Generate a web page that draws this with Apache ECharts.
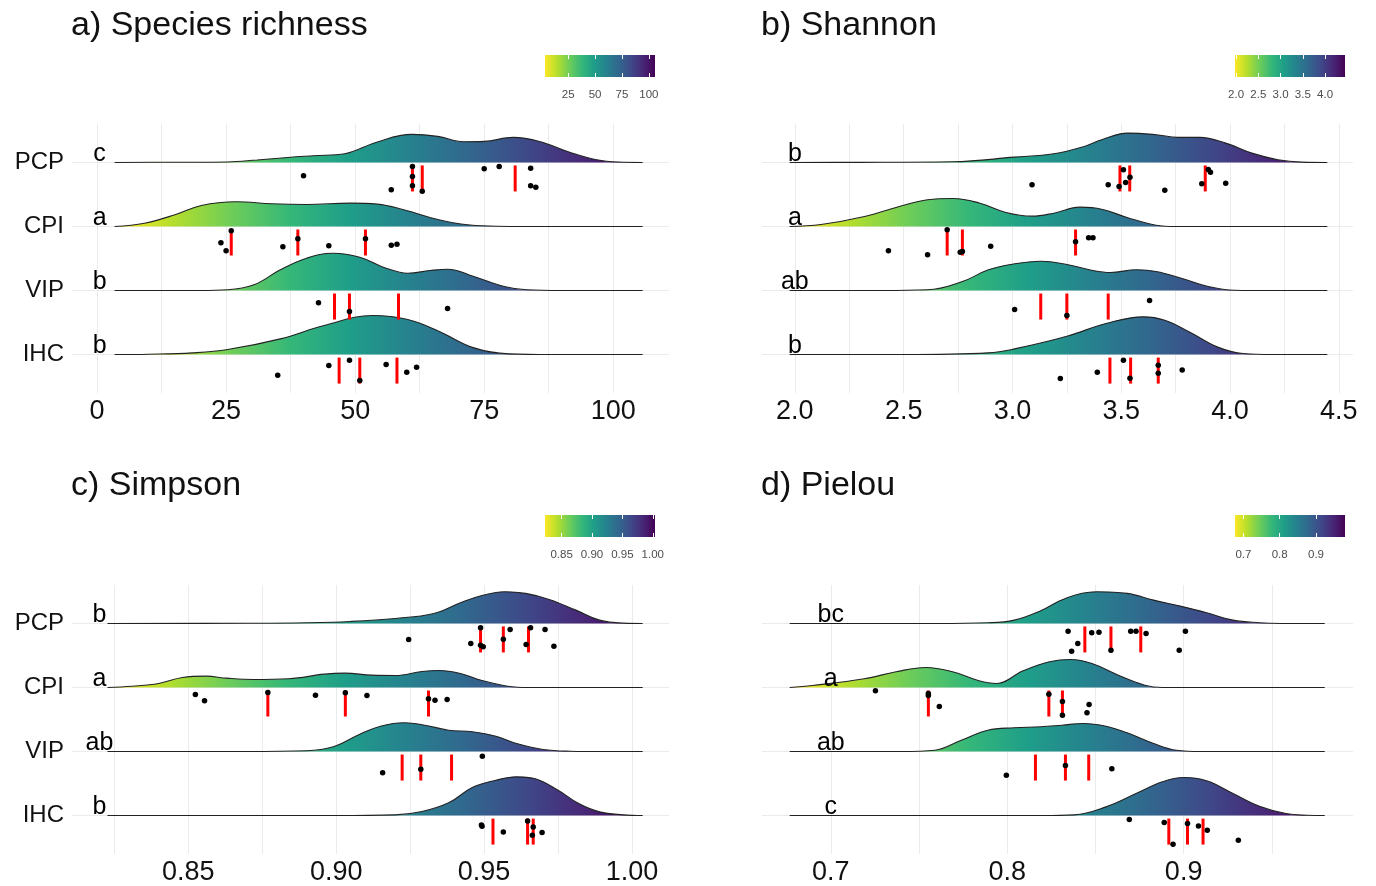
<!DOCTYPE html>
<html>
<head>
<meta charset="utf-8">
<title>Diversity ridgelines</title>
<script src="https://cdn.jsdelivr.net/npm/echarts@6.0.0/dist/echarts.min.js"></script>
<style>
  html, body { margin: 0; padding: 0; background: #fff; }
  #chart { width: 1376px; height: 886px; }
</style>
</head>
<body>
<div id="chart"></div>
<script>
// groups, top row first
const groups = ['PCP', 'CPI', 'VIP', 'IHC'];

// ---- a) Species richness ----
const richnessTicks = [0, 25, 50, 75, 100];
const richnessLetters = ['c', 'a', 'b', 'b'];
const richnessDensity = [
  [[3.4,0],[15,0.2],[25.3,0.5],[31,2.5],[37,5],[42,6.7],[48,8.7],[54,20],[61,28],[66,26],[71,20.7],[75,21],[80.6,25],[85.7,21],[91.7,10],[96.8,2.7],[101,0.4],[105.7,0]],
  [[3.4,0],[9.2,3.3],[15.1,11.7],[20.2,21],[27,24.7],[33.8,22.7],[40.6,22],[49.1,23.3],[54.3,22.3],[59.4,16.7],[66.2,6.7],[70.5,2.5],[74.7,0.7],[80,0],[90,0],[105.7,0]],
  [[3.4,0],[20,0],[25.3,0.7],[30.4,5.7],[35.5,20.7],[40.6,32.3],[45.7,37.3],[50.9,33.3],[56,22.3],[60.2,17.3],[64.5,20],[67.9,21.3],[73,14],[78.9,4],[83.2,0.7],[90,0],[105.7,0]],
  [[3.4,0],[10,0.3],[18.5,1.7],[25.3,5],[35.5,15.7],[44,29],[53.4,39],[60.2,35],[66.2,23.3],[73,6.7],[79.8,0.7],[88,0],[105.7,0]]
];
const richnessPoints = [
  [[61.1,4],[77.9,4],[84,5.7],[75,6.3],[40,13.3],[61.1,14],[61.1,23.3],[84,23.3],[85,24.7],[57,27.3],[63,28.7]],
  [[26,4.3],[24,16.3],[25,24.3],[36,20.3],[38.9,12.3],[44.9,19.3],[52,12.3],[57,18.7],[58.1,17.7]],
  [[42.9,12.3],[48.9,21],[67.9,18]],
  [[35,20.7],[44.9,11],[48.9,5.7],[50.9,26],[56,10],[60,17.7],[61.9,12.7]]
];
const richnessQuantiles = [[61.1,63,81],[26,38.9,52],[46,48.9,58.4],[46.9,50.9,58.1]];
const richnessCbTicks = [25, 50, 75, 100];

// ---- b) Shannon ----
const shannonTicks = [2.0, 2.5, 3.0, 3.5, 4.0, 4.5];
const shannonLetters = ['b', 'a', 'ab', 'b'];
const shannonDensity = [
  [[1.976,0],[2.3,0.1],[2.727,0.7],[3.01,5.3],[3.19,8.7],[3.33,16],[3.41,22.7],[3.53,29.3],[3.66,27.7],[3.76,25],[3.86,25],[3.98,19.3],[4.10,9.3],[4.22,2.7],[4.33,0.3],[4.447,0]],
  [[1.976,0],[2.12,2],[2.32,10],[2.48,20],[2.61,26.7],[2.727,28],[2.85,23.3],[2.97,14],[3.09,10.3],[3.19,13.3],[3.31,19.3],[3.41,17.3],[3.53,8.7],[3.66,1.3],[3.75,0],[4.0,0],[4.447,0]],
  [[1.976,0],[2.4,0],[2.61,0.7],[2.77,9],[2.89,20.7],[3.01,26.7],[3.13,29.3],[3.25,26],[3.37,20],[3.45,18],[3.57,20.7],[3.66,19],[3.78,12],[3.90,4],[4.02,0.3],[4.2,0],[4.447,0]],
  [[1.976,0],[2.5,0],[2.89,1.7],[3.01,5.7],[3.25,18.3],[3.43,31],[3.60,37.7],[3.70,34.3],[3.82,21.7],[3.94,7.7],[4.06,1],[4.2,0],[4.447,0]]
];
const shannonPoints = [
  [[3.51,7.3],[3.54,14.7],[3.90,7],[3.91,9.7],[3.09,22.3],[3.44,22.3],[3.49,24],[3.52,20],[3.87,21.3],[3.98,20.7],[3.70,27.7]],
  [[2.70,3.3],[2.43,24.3],[2.61,28.3],[2.76,25.7],[2.77,25],[2.90,19.7],[3.29,15.3],[3.35,11.3],[3.37,11.3]],
  [[3.01,19],[3.25,25],[3.63,10]],
  [[3.22,24],[3.39,17.7],[3.51,5.7],[3.54,23.7],[3.67,10.7],[3.67,18.7],[3.78,15.3]]
];
const shannonQuantiles = [[3.494,3.539,3.886],[2.70,2.77,3.29],[3.13,3.25,3.44],[3.448,3.543,3.67]];
const shannonCbTicks = [2.0, 2.5, 3.0, 3.5, 4.0];

// ---- c) Simpson ----
const simpsonTicks = [0.85, 0.90, 0.95, 1.00];
const simpsonLetters = ['b', 'a', 'ab', 'b'];
const simpsonDensity = [
  [[0.8227,0],[0.87,0.2],[0.890,0.7],[0.905,2],[0.920,5],[0.933,10],[0.942,20.7],[0.949,27.7],[0.957,31.7],[0.964,30],[0.972,24],[0.981,13.3],[0.989,3.3],[0.997,0.3],[1.0036,0]],
  [[0.8227,0],[0.831,1.3],[0.840,4],[0.848,10],[0.856,11.3],[0.863,9.3],[0.872,8],[0.884,8.7],[0.896,13.3],[0.903,14.3],[0.912,12.3],[0.920,12],[0.929,16],[0.935,17],[0.942,14],[0.949,7.3],[0.958,1.3],[0.965,0],[0.98,0],[1.0036,0]],
  [[0.8227,0],[0.87,0],[0.890,0.7],[0.899,4.7],[0.908,17.3],[0.915,25.3],[0.923,28.7],[0.930,26.3],[0.938,21.3],[0.946,19.7],[0.954,15.3],[0.961,8],[0.970,2],[0.979,0.3],[0.99,0],[1.0036,0]],
  [[0.8227,0],[0.90,0],[0.920,0.7],[0.929,4],[0.938,12.7],[0.946,28],[0.954,35.3],[0.961,38.7],[0.967,37],[0.975,25.3],[0.982,12],[0.989,3.7],[0.997,0.7],[1.0036,0]]
];
const simpsonPoints = [
  [[0.9488,4.3],[0.9588,6],[0.9657,4.3],[0.9706,6],[0.9245,16],[0.9455,20],[0.9488,21.7],[0.9497,23.3],[0.9565,15.7],[0.9642,21],[0.9736,22.7]],
  [[0.8524,7],[0.8555,13.3],[0.8769,5],[0.893,7.7],[0.9031,5.3],[0.9104,8],[0.9312,11.3],[0.9334,12.7],[0.9375,12]],
  [[0.9494,4.7],[0.9157,21.3],[0.9286,17.7]],
  [[0.9491,9.3],[0.9493,10.7],[0.9565,16.3],[0.9647,5.3],[0.9666,11.3],[0.9663,19.7],[0.9696,17]]
];
const simpsonQuantiles = [[0.9488,0.9565,0.965],[0.8769,0.9031,0.9312],[0.9223,0.9286,0.939],[0.953,0.9647,0.9666]];
const simpsonCbTicks = [0.85, 0.90, 0.95, 1.00];

// ---- d) Pielou ----
const pielouTicks = [0.7, 0.8, 0.9];
const pielouLetters = ['bc', 'a', 'ab', 'c'];
const pielouDensity = [
  [[0.6767,0],[0.76,0],[0.789,0.7],[0.804,3.3],[0.819,12.7],[0.833,25],[0.851,31.7],[0.868,30],[0.883,23.3],[0.898,17.3],[0.913,10.7],[0.928,3.3],[0.943,0.7],[0.955,0],[0.980,0]],
  [[0.6767,0],[0.6896,2],[0.719,8.7],[0.737,15.7],[0.754,20],[0.769,15.7],[0.784,6.7],[0.794,4],[0.809,16.7],[0.824,25.7],[0.836,28],[0.848,24],[0.863,12.3],[0.878,2.3],[0.888,0],[0.93,0],[0.980,0]],
  [[0.6767,0],[0.74,0],[0.759,1.3],[0.774,11.3],[0.789,21.3],[0.804,23.7],[0.819,24.7],[0.831,26.3],[0.843,28],[0.856,25.3],[0.868,18.7],[0.883,8],[0.896,1.3],[0.91,0],[0.980,0]],
  [[0.6767,0],[0.82,0],[0.838,0.7],[0.856,8.7],[0.873,22],[0.888,33.7],[0.900,38],[0.913,34.7],[0.928,22],[0.943,9.3],[0.958,2],[0.970,0.3],[0.980,0]]
];
const pielouPoints = [
  [[0.8345,7.7],[0.8479,9.3],[0.852,8.7],[0.870,7.7],[0.873,7.7],[0.8787,10],[0.901,7.7],[0.840,20],[0.8365,27.7],[0.8588,26.7],[0.8975,26.7]],
  [[0.7253,3.3],[0.7553,6],[0.7553,8],[0.7615,19],[0.8236,6.7],[0.8313,14],[0.8313,27.7],[0.8464,17],[0.8452,25.3]],
  [[0.7995,23.7],[0.833,14],[0.8593,17.3]],
  [[0.8692,4],[0.889,7],[0.894,28.7],[0.9022,8],[0.9084,10.3],[0.9134,14.7],[0.931,24.7]]
];
const pielouQuantiles = [[0.844,0.8588,0.8757],[0.7553,0.8236,0.8313],[0.816,0.833,0.8462],[0.8916,0.9022,0.911]];
const pielouCbTicks = [0.7, 0.8, 0.9];

const font = '"Liberation Sans", Arial, Helvetica, sans-serif';
const textColor = '#111';
const rowScale = 64; // density units per row height

// viridis, reversed (low = yellow)
const viridis = ['#FDE725', '#B4DE2C', '#6DCD59', '#35B779', '#1F9E89', '#26828E', '#31688E', '#3E4A89', '#482878', '#440154'];
function fillGradient() {
  return new echarts.graphic.LinearGradient(0, 0, 1, 0,
    viridis.map((c, i) => ({ offset: i / (viridis.length - 1), color: c })));
}

const panels = [
  { title: 'a) Species richness', density: richnessDensity, points: richnessPoints, quant: richnessQuantiles,
    letters: richnessLetters, letterX: 0.5, ticks: richnessTicks, step: 12.5, range: [-4.85, 110.8], dec: 0,
    cbTicks: richnessCbTicks, cbDec: 0, showGroups: true, left: 72, top: 124, width: 597, titleTop: 4, cbLeft: 545, cbTop: 55 },
  { title: 'b) Shannon', density: shannonDensity, points: shannonPoints, quant: shannonQuantiles,
    letters: shannonLetters, letterX: 2.0, ticks: shannonTicks, step: 0.25, range: [1.849, 4.565], dec: 1,
    cbTicks: shannonCbTicks, cbDec: 1, showGroups: false, left: 762, top: 124, width: 591, titleTop: 4, cbLeft: 1235, cbTop: 55 },
  { title: 'c) Simpson', density: simpsonDensity, points: simpsonPoints, quant: simpsonQuantiles,
    letters: simpsonLetters, letterX: 0.82, ticks: simpsonTicks, step: 0.025, range: [0.8107, 1.0125], dec: 2,
    cbTicks: simpsonCbTicks, cbDec: 2, showGroups: true, left: 72, top: 585, width: 597, titleTop: 464, cbLeft: 545, cbTop: 515 },
  { title: 'd) Pielou', density: pielouDensity, points: pielouPoints, quant: pielouQuantiles,
    letters: pielouLetters, letterX: 0.7, ticks: pielouTicks, step: 0.05, range: [0.661, 0.996], dec: 1,
    cbTicks: pielouCbTicks, cbDec: 1, showGroups: false, left: 762, top: 585, width: 591, titleTop: 464, cbLeft: 1235, cbTop: 515 }
];

const title = [], grid = [], xAxis = [], yAxis = [], series = [];

panels.forEach((p, k) => {
  title.push({ text: p.title, left: p.left - 6, top: p.titleTop,
    textStyle: { fontFamily: font, fontSize: 34, fontWeight: 'normal', color: textColor } });

  // main panel
  const gi = grid.length;
  grid.push({ left: p.left, top: p.top, width: p.width, height: 269 });
  const xi = xAxis.length;
  xAxis.push({
    type: 'value', gridIndex: gi, min: p.range[0], max: p.range[1],
    minInterval: p.step, maxInterval: p.step,
    axisLine: { show: false }, axisTick: { show: false },
    axisLabel: { customValues: p.ticks, formatter: v => v.toFixed(p.dec),
      fontFamily: font, fontSize: 27, color: textColor, margin: 5 },
    splitLine: { show: true, showMinLine: false, showMaxLine: false, lineStyle: { color: '#EBEBEB', width: 1 } }
  });
  const yi = yAxis.length;
  yAxis.push({
    type: 'value', gridIndex: gi, min: 0.4, max: 4.6, minInterval: 1, maxInterval: 1,
    axisLine: { show: false }, axisTick: { show: false },
    axisLabel: { show: p.showGroups, customValues: [1, 2, 3, 4], formatter: v => groups[groups.length - v] || '',
      fontFamily: font, fontSize: 24, color: textColor, margin: 8 },
    splitLine: { show: true, showMinLine: false, showMaxLine: false, lineStyle: { color: '#EBEBEB', width: 1 } }
  });

  groups.forEach((g, i) => {
    const base = groups.length - i;
    series.push({
      type: 'line', name: g, xAxisIndex: xi, yAxisIndex: yi, z: 2, silent: true,
      data: p.density[i].map(d => [d[0], base + d[1] / rowScale]),
      smooth: 0.4, symbol: 'none',
      lineStyle: { color: '#222', width: 1.1 },
      areaStyle: { origin: base, color: fillGradient(), opacity: 1 }
    });
  });
  groups.forEach((g, i) => {
    const base = groups.length - i;
    series.push({
      type: 'scatter', xAxisIndex: xi, yAxisIndex: yi, z: 3, silent: true,
      symbol: 'rect', symbolSize: [3, 26],
      itemStyle: { color: '#FF0000', opacity: 1 },
      data: p.quant[i].map(q => [q, base - 16 / rowScale])
    });
    series.push({
      type: 'scatter', xAxisIndex: xi, yAxisIndex: yi, z: 4, silent: true,
      symbolSize: 5.5, itemStyle: { color: '#000', opacity: 1 },
      data: p.points[i].map(d => [d[0], base - d[1] / rowScale])
    });
    series.push({
      type: 'scatter', xAxisIndex: xi, yAxisIndex: yi, z: 5, silent: true,
      symbolSize: 1, itemStyle: { color: 'rgba(0,0,0,0)' },
      label: { show: true, position: 'top', distance: -5, formatter: p.letters[i], opacity: 1,
        fontFamily: font, fontSize: 25, color: '#000' },
      data: [[p.letterX, base]]
    });
  });

  // colour bar
  const cbMin = p.density[0][0][0];
  const cbMax = p.density[0][p.density[0].length - 1][0];
  const cg = grid.length;
  grid.push({ left: p.cbLeft, top: p.cbTop, width: 110, height: 22 });
  const cx = xAxis.length;
  xAxis.push({
    type: 'value', gridIndex: cg, min: cbMin, max: cbMax, z: 10,
    axisLine: { show: false }, splitLine: { show: false },
    axisTick: { show: true, inside: true, length: 4, customValues: p.cbTicks, lineStyle: { color: '#fff', width: 1 } },
    axisLabel: { customValues: p.cbTicks, formatter: v => v.toFixed(p.cbDec),
      fontFamily: font, fontSize: 11.5, color: '#4d4d4d', margin: 12 }
  });
  xAxis.push({
    type: 'value', gridIndex: cg, position: 'top', min: cbMin, max: cbMax, z: 10,
    axisLine: { show: false }, splitLine: { show: false }, axisLabel: { show: false },
    axisTick: { show: true, inside: true, length: 4, customValues: p.cbTicks, lineStyle: { color: '#fff', width: 1 } }
  });
  const cy = yAxis.length;
  yAxis.push({ type: 'value', gridIndex: cg, min: 0, max: 1, show: false });
  series.push({
    type: 'line', xAxisIndex: cx, yAxisIndex: cy, silent: true, symbol: 'none',
    data: [[cbMin, 1], [cbMax, 1]],
    lineStyle: { width: 0 },
    areaStyle: { origin: 'start', color: fillGradient(), opacity: 1 }
  });
});

const chart = echarts.init(document.getElementById('chart'), null, { renderer: 'canvas' });
chart.setOption({
  backgroundColor: '#ffffff',
  animation: false,
  title: title,
  grid: grid,
  xAxis: xAxis,
  yAxis: yAxis,
  series: series
});
</script>
</body>
</html>
